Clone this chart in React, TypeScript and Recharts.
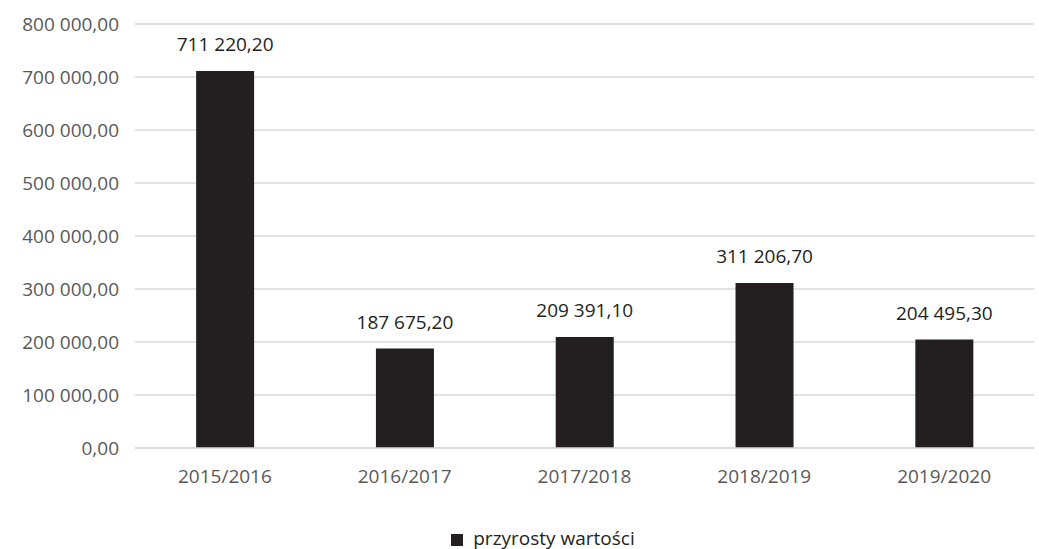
import React from 'react';
import { BarChart, Bar, XAxis, YAxis, CartesianGrid, Legend, LabelList } from 'recharts';

const categories = ['2015/2016', '2016/2017', '2017/2018', '2018/2019', '2019/2020'];
const values = [711220.2, 187675.2, 209391.1, 311206.7, 204495.3];
const yTicks = [0, 100000, 200000, 300000, 400000, 500000, 600000, 700000, 800000];
const seriesName = 'przyrosty wartości';

const data = categories.map((c, i) => ({ name: c, value: values[i] }));

const fmt = (v: number) => {
  const fixed = Number(v).toFixed(2);
  const [int, dec] = fixed.split('.');
  const intS = int.replace(/\B(?=(\d{3})+(?!\d))/g, ' ');
  return `${intS},${dec}`;
};

const FONT = '"Open Sans", Roboto, sans-serif';
const FS = 19;

const renderLabel = (props: any) => {
  const { x, y, width, value } = props;
  return (
    <text
      x={Number(x) + Number(width) / 2}
      y={Number(y) - 20}
      textAnchor="middle"
      fill="#231f20"
      fontSize={FS}
      fontFamily={FONT}
    >
      {fmt(value)}
    </text>
  );
};

export default function App() {
  return (
    <div style={{ position: 'absolute', left: 0, top: 0, width: 1039, height: 549, background: '#fff' }}>
      <BarChart
        width={1039}
        height={549}
        data={data}
        margin={{ top: 24, right: 5, left: 0, bottom: 0 }}
        barCategoryGap="34%"
      >
        <CartesianGrid vertical={false} stroke="#d9d9d9" strokeWidth={1.5} />
        <XAxis
          dataKey="name"
          axisLine={{ stroke: '#d9d9d9', strokeWidth: 1.5 }}
          tickLine={false}
          tick={{ fill: '#595959', fontSize: FS, fontFamily: FONT }}
          tickMargin={16}
          height={77}
        />
        <YAxis
          width={135}
          domain={[0, 800000]}
          ticks={yTicks}
          tickFormatter={fmt}
          axisLine={false}
          tickLine={false}
          tick={{ fill: '#595959', fontSize: FS, fontFamily: FONT }}
          tickMargin={10}
          interval={0}
        />
        <Legend
          verticalAlign="bottom"
          height={24}
          iconType="square"
          iconSize={12}
          wrapperStyle={{ fontFamily: FONT, fontSize: FS, color: '#231f20', paddingLeft: 62, boxSizing: 'border-box' }}
          formatter={(v: string) => <span style={{ color: '#231f20', marginLeft: 6 }}>{v}</span>}
        />
        <Bar dataKey="value" name={seriesName} fill="#231f20" isAnimationActive={false}>
          <LabelList dataKey="value" content={renderLabel} />
        </Bar>
      </BarChart>
    </div>
  );
}
